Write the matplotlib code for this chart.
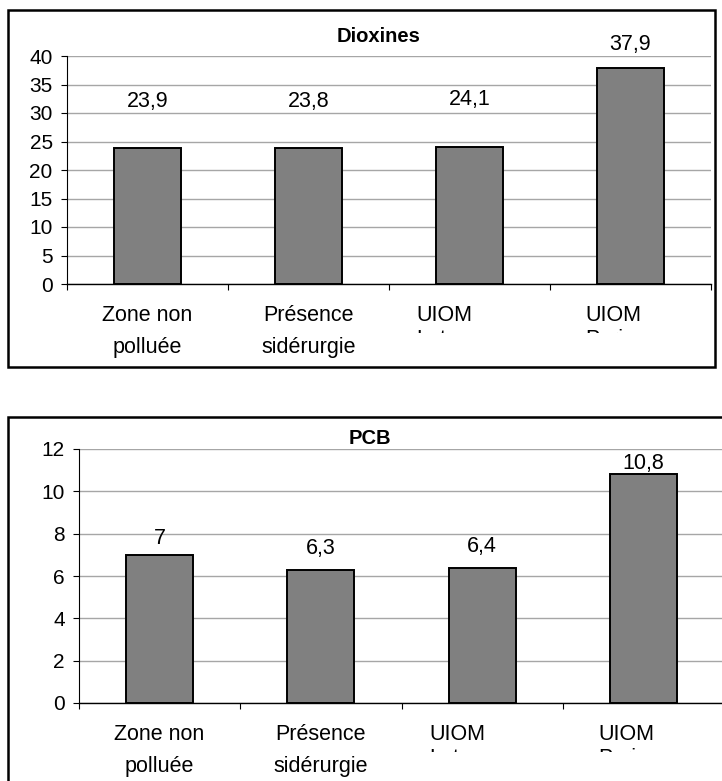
import numpy as np
import matplotlib
matplotlib.use('Agg')
import matplotlib.pyplot as plt
from matplotlib.patches import Rectangle
from matplotlib.transforms import Bbox, offset_copy

plt.rcParams['font.family'] = ['Liberation Sans', 'DejaVu Sans']

W, H = 722, 781

# data
categories   = ['Zone non', 'Présence', 'UIOM', 'UIOM']
categories_2 = ['polluée', 'sidérurgie', 'Lot', 'Paris']
dioxines     = [23.9, 23.8, 24.1, 37.9]
pcb          = [7.0, 6.3, 6.4, 10.8]
dioxines_txt = ['23,9', '23,8', '24,1', '37,9']
pcb_txt      = ['7', '6,3', '6,4', '10,8']
dioxines_ticks = [0, 5, 10, 15, 20, 25, 30, 35, 40]
pcb_ticks      = [0, 2, 4, 6, 8, 10, 12]

# where the value labels sit (baseline, data units) - not regular in the original
dioxines_lab_y = [31.1, 31.1, 31.4, 41.1]
pcb_lab_y      = [7.5, 7.05, 7.13, 11.05]

# the UIOM labels are pushed left in the original
label_shift = [0.0, 0.0, -0.33, -0.28]


def fx(px):
    return px / W


def fy(py):
    return 1 - py / H


fig = plt.figure(figsize=(W / 100, H / 100), dpi=100)


def frame(x0, y0, x1, y1):
    r = Rectangle((fx(x0), fy(y1)), fx(x1) - fx(x0), fy(y0) - fy(y1),
                  transform=fig.transFigure, fill=False, ec='black', lw=1.8)
    fig.add_artist(r)


def panel(left, right, top, bottom, vals, txt, lab_y, ticks, title, title_xy, clip_py):

    ax = fig.add_axes([fx(left), fy(bottom), fx(right) - fx(left), fy(top) - fy(bottom)])

    x = np.arange(len(vals))

    ax.bar(x, vals, width=0.415, color='#808080', edgecolor='black', lw=1.4, zorder=3)

    for i in range(len(vals)):
        ax.text(x[i], lab_y[i], txt[i], ha='center', va='baseline', fontsize=15.5, clip_on=False)

    ax.set_xlim(-0.5, len(vals) - 0.5)
    ax.set_ylim(ticks[0], ticks[-1])

    ax.set_yticks(ticks)
    ax.set_xticks([])
    ax.set_xticks(np.arange(-0.5, len(vals)), minor=True)

    ax.tick_params(axis='y', length=4.3, width=0.8, pad=6, labelsize=15, color='black')
    ax.tick_params(axis='x', which='minor', length=4, width=0.8, color='black')

    ax.yaxis.grid(True, color='#a6a6a6', lw=1.0)
    ax.set_axisbelow(True)

    for s in ['top', 'right']:
        ax.spines[s].set_visible(False)
    ax.spines['left'].set_linewidth(0.8)
    ax.spines['bottom'].set_linewidth(1.0)

    base = ax.get_xaxis_transform()
    t1 = offset_copy(base, fig=fig, y=-21, units='dots')
    t2 = offset_copy(base, fig=fig, y=-53, units='dots')
    t3 = offset_copy(base, fig=fig, y=-45, units='dots')

    for i in range(len(vals)):
        ha = 'center' if label_shift[i] == 0 else 'left'
        xi = x[i] + label_shift[i]
        fig.text(xi, 0, categories[i], transform=t1, ha=ha, va='top', fontsize=15.5)
        if label_shift[i] == 0:
            fig.text(xi, 0, categories_2[i], transform=t2, ha=ha, va='top', fontsize=15.5)
        else:
            # second line is cut off in the original
            t = fig.text(xi, 0, categories_2[i], transform=t3, ha=ha, va='top', fontsize=15.5)
            t.set_clip_on(True)
            t.set_clip_box(Bbox([[0, H - clip_py], [W, H]]))

    fig.text(fx(title_xy[0]), fy(title_xy[1]), title, ha='center', va='center',
             fontsize=14.5, weight='bold')

    return ax


frame(7.5, 9.5, 715, 366.5)
panel(67, 711, 56, 284, dioxines, dioxines_txt, dioxines_lab_y, dioxines_ticks,
      'Dioxines', (379, 37), 333)

frame(7.5, 416.5, 740, 800)
panel(79, 724, 449, 703, pcb, pcb_txt, pcb_lab_y, pcb_ticks,
      'PCB', (370, 438), 752)

fig.savefig('out.png', dpi=100)
